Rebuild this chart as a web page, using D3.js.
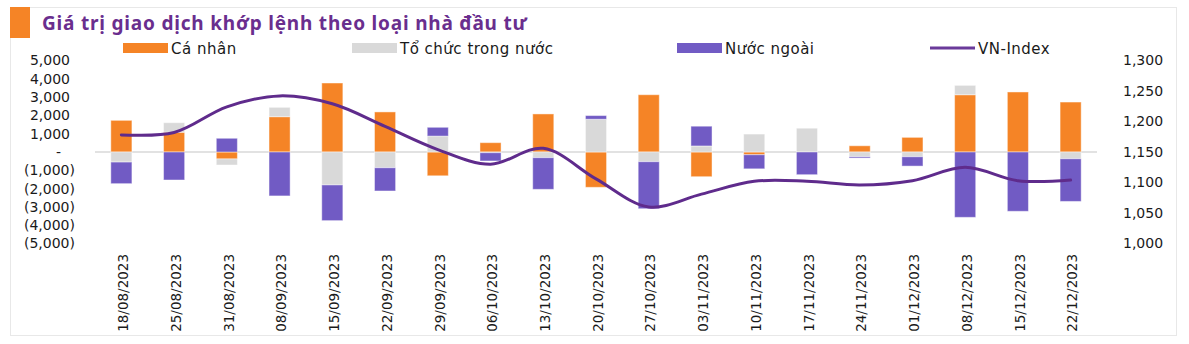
<!DOCTYPE html>
<html>
<head>
<meta charset="utf-8">
<script src="https://cdn.jsdelivr.net/npm/d3@7"></script>
<style>
  html, body { margin: 0; padding: 0; background: #fff; }
  svg { display: block; font-family: "DejaVu Sans", "Noto Sans", sans-serif; }
</style>
</head>
<body>
<svg id="chart" width="1189" height="344"></svg>
<script>
// Weekly net matched-order value by investor type (billion VND) and VN-Index close
const dates = ["18/08/2023","25/08/2023","31/08/2023","08/09/2023","15/09/2023","22/09/2023",
  "29/09/2023","06/10/2023","13/10/2023","20/10/2023","27/10/2023","03/11/2023","10/11/2023",
  "17/11/2023","24/11/2023","01/12/2023","08/12/2023","15/12/2023","22/12/2023"];
const caNhan   = [1730, 1080, -380, 1930, 3770, 2190, -1300, 510, 2080, -1930, 3130, -1350, -150, 0, 340, 800, 3130, 3280, 2730];
const toChuc   = [-550, 520, -330, 510, -1800, -860, 870, -40, -310, 1790, -530, 330, 980, 1300, -260, -260, 510, 0, -370];
const nuocNgoai = [-1180, -1530, 750, -2400, -1950, -1270, 480, -450, -1730, 200, -2570, 1080, -770, -1240, -70, -510, -3570, -3240, -2330];
const vnIndex  = [1178, 1182, 1224, 1242, 1229, 1192, 1154, 1130, 1156, 1106, 1060, 1081, 1102, 1102, 1096, 1103, 1125, 1103, 1104];

const leftTicks  = [-5000, -4000, -3000, -2000, -1000, 0, 1000, 2000, 3000, 4000, 5000];
const rightTicks = [1000, 1050, 1100, 1150, 1200, 1250, 1300];

const seriesNames  = ["Cá nhân", "Tổ chức trong nước", "Nước ngoài"];
const seriesValues = [caNhan, toChuc, nuocNgoai];
const seriesColors = ["#F58426", "#D9D9D9", "#715BC4"];
const lineName  = "VN-Index";
const lineColor = "#5F2B8C";
const titleText = "Giá trị giao dịch khớp lệnh theo loại nhà đầu tư";

const svg = d3.select("#chart");

// outer frame and heading
svg.append("rect").attr("x", 10.5).attr("y", 7.5).attr("width", 1166).attr("height", 328)
  .attr("fill", "none").attr("stroke", "#E8E8E8").attr("stroke-width", 1);
svg.append("rect").attr("x", 10).attr("y", 7).attr("width", 20).attr("height", 31).attr("fill", "#F58426");
svg.append("text").attr("x", 42).attr("y", 30).text(titleText)
  .attr("font-family", "Noto Sans").attr("font-size", 19).attr("letter-spacing", 0.8)
  .attr("font-weight", 700).attr("fill", "#6A2E8E");

// scales
const x = d3.scaleBand().domain(dates).range([95, 1097]).paddingInner(0.6).paddingOuter(0.3);
const y = d3.scaleLinear().domain([-5000, 5000]).range([243.5, 60.5]);
const y2 = d3.scaleLinear().domain([1000, 1300]).range([243.5, 60.5]);

// stacked bars: positives stack upward, negatives downward, in series order
const rows = dates.map((d, i) => {
  let pos = 0, neg = 0;
  return seriesValues.map((vals, s) => {
    const v = vals[i];
    let y0, y1;
    if (v >= 0) { y0 = pos; y1 = pos + v; pos = y1; }
    else { y0 = neg; y1 = neg + v; neg = y1; }
    return { date: d, s, y0, y1, v };
  });
});

// zero line
svg.append("line").attr("x1", 95).attr("x2", 1097).attr("y1", y(0)).attr("y2", y(0))
  .attr("stroke", "#D9D9D9").attr("stroke-width", 1.5);

const barG = svg.append("g");
rows.flat().filter(r => r.v !== 0).forEach(r => {
  barG.append("rect")
    .attr("x", x(r.date))
    .attr("width", x.bandwidth())
    .attr("y", Math.min(y(r.y0), y(r.y1)))
    .attr("height", Math.abs(y(r.y0) - y(r.y1)))
    .attr("fill", seriesColors[r.s])
    .attr("stroke", "rgba(255,255,255,0.45)")
    .attr("stroke-width", 1);
});

// VN-Index smoothed line on the right axis
const line = d3.line()
  .x((d, i) => x(dates[i]) + x.bandwidth() / 2)
  .y(d => y2(d))
  .curve(d3.curveCatmullRom.alpha(0.5));
svg.append("path").datum(vnIndex).attr("d", line)
  .attr("fill", "none").attr("stroke", lineColor).attr("stroke-width", 3)
  .attr("stroke-linecap", "round");

// left axis with accounting-style labels
const fmtLeft = v => v === 0 ? "-" : (v < 0 ? "(" + d3.format(",")(-v) + ")" : d3.format(",")(v));
const leftAxis = svg.append("g").attr("transform", "translate(75,0)")
  .call(d3.axisLeft(y).tickValues(leftTicks).tickFormat(fmtLeft).tickSize(0).tickPadding(0));
leftAxis.select(".domain").remove();
leftAxis.selectAll("text")
  .attr("font-size", 14).attr("font-family", "DejaVu Sans").attr("fill", "#1a1a1a")
  .attr("dx", d => d < 0 ? 0 : (d === 0 ? -14 : -5));

// right axis
const rightAxis = svg.append("g").attr("transform", "translate(1123,0)")
  .call(d3.axisRight(y2).tickValues(rightTicks).tickFormat(d3.format(",")).tickSize(0).tickPadding(0));
rightAxis.select(".domain").remove();
rightAxis.selectAll("text")
  .attr("font-size", 14).attr("font-family", "DejaVu Sans").attr("fill", "#1a1a1a");

// category labels, rotated
const bottomAxis = svg.append("g").attr("transform", "translate(0,254)")
  .call(d3.axisBottom(x).tickSize(0));
bottomAxis.select(".domain").remove();
bottomAxis.selectAll("text")
  .attr("x", 0).attr("y", 0).attr("dy", "0.5em")
  .attr("transform", "rotate(-90)").attr("text-anchor", "end")
  .attr("font-size", 13.5).attr("font-family", "DejaVu Sans").attr("fill", "#1a1a1a");

// legend
const legend = svg.append("g").attr("font-size", 15).attr("letter-spacing", 0.5).attr("fill", "#1a1a1a");
const legendX = [123, 352, 677];
seriesNames.forEach((name, i) => {
  legend.append("rect").attr("x", legendX[i]).attr("y", 43).attr("width", 45).attr("height", 10)
    .attr("fill", seriesColors[i]);
  legend.append("text").attr("x", legendX[i] + 48).attr("y", 54).text(name);
});
legend.append("line").attr("x1", 930).attr("x2", 975).attr("y1", 48).attr("y2", 48)
  .attr("stroke", "#6A3A9A").attr("stroke-width", 3);
legend.append("text").attr("x", 978).attr("y", 54).text(lineName);
</script>
</body>
</html>
